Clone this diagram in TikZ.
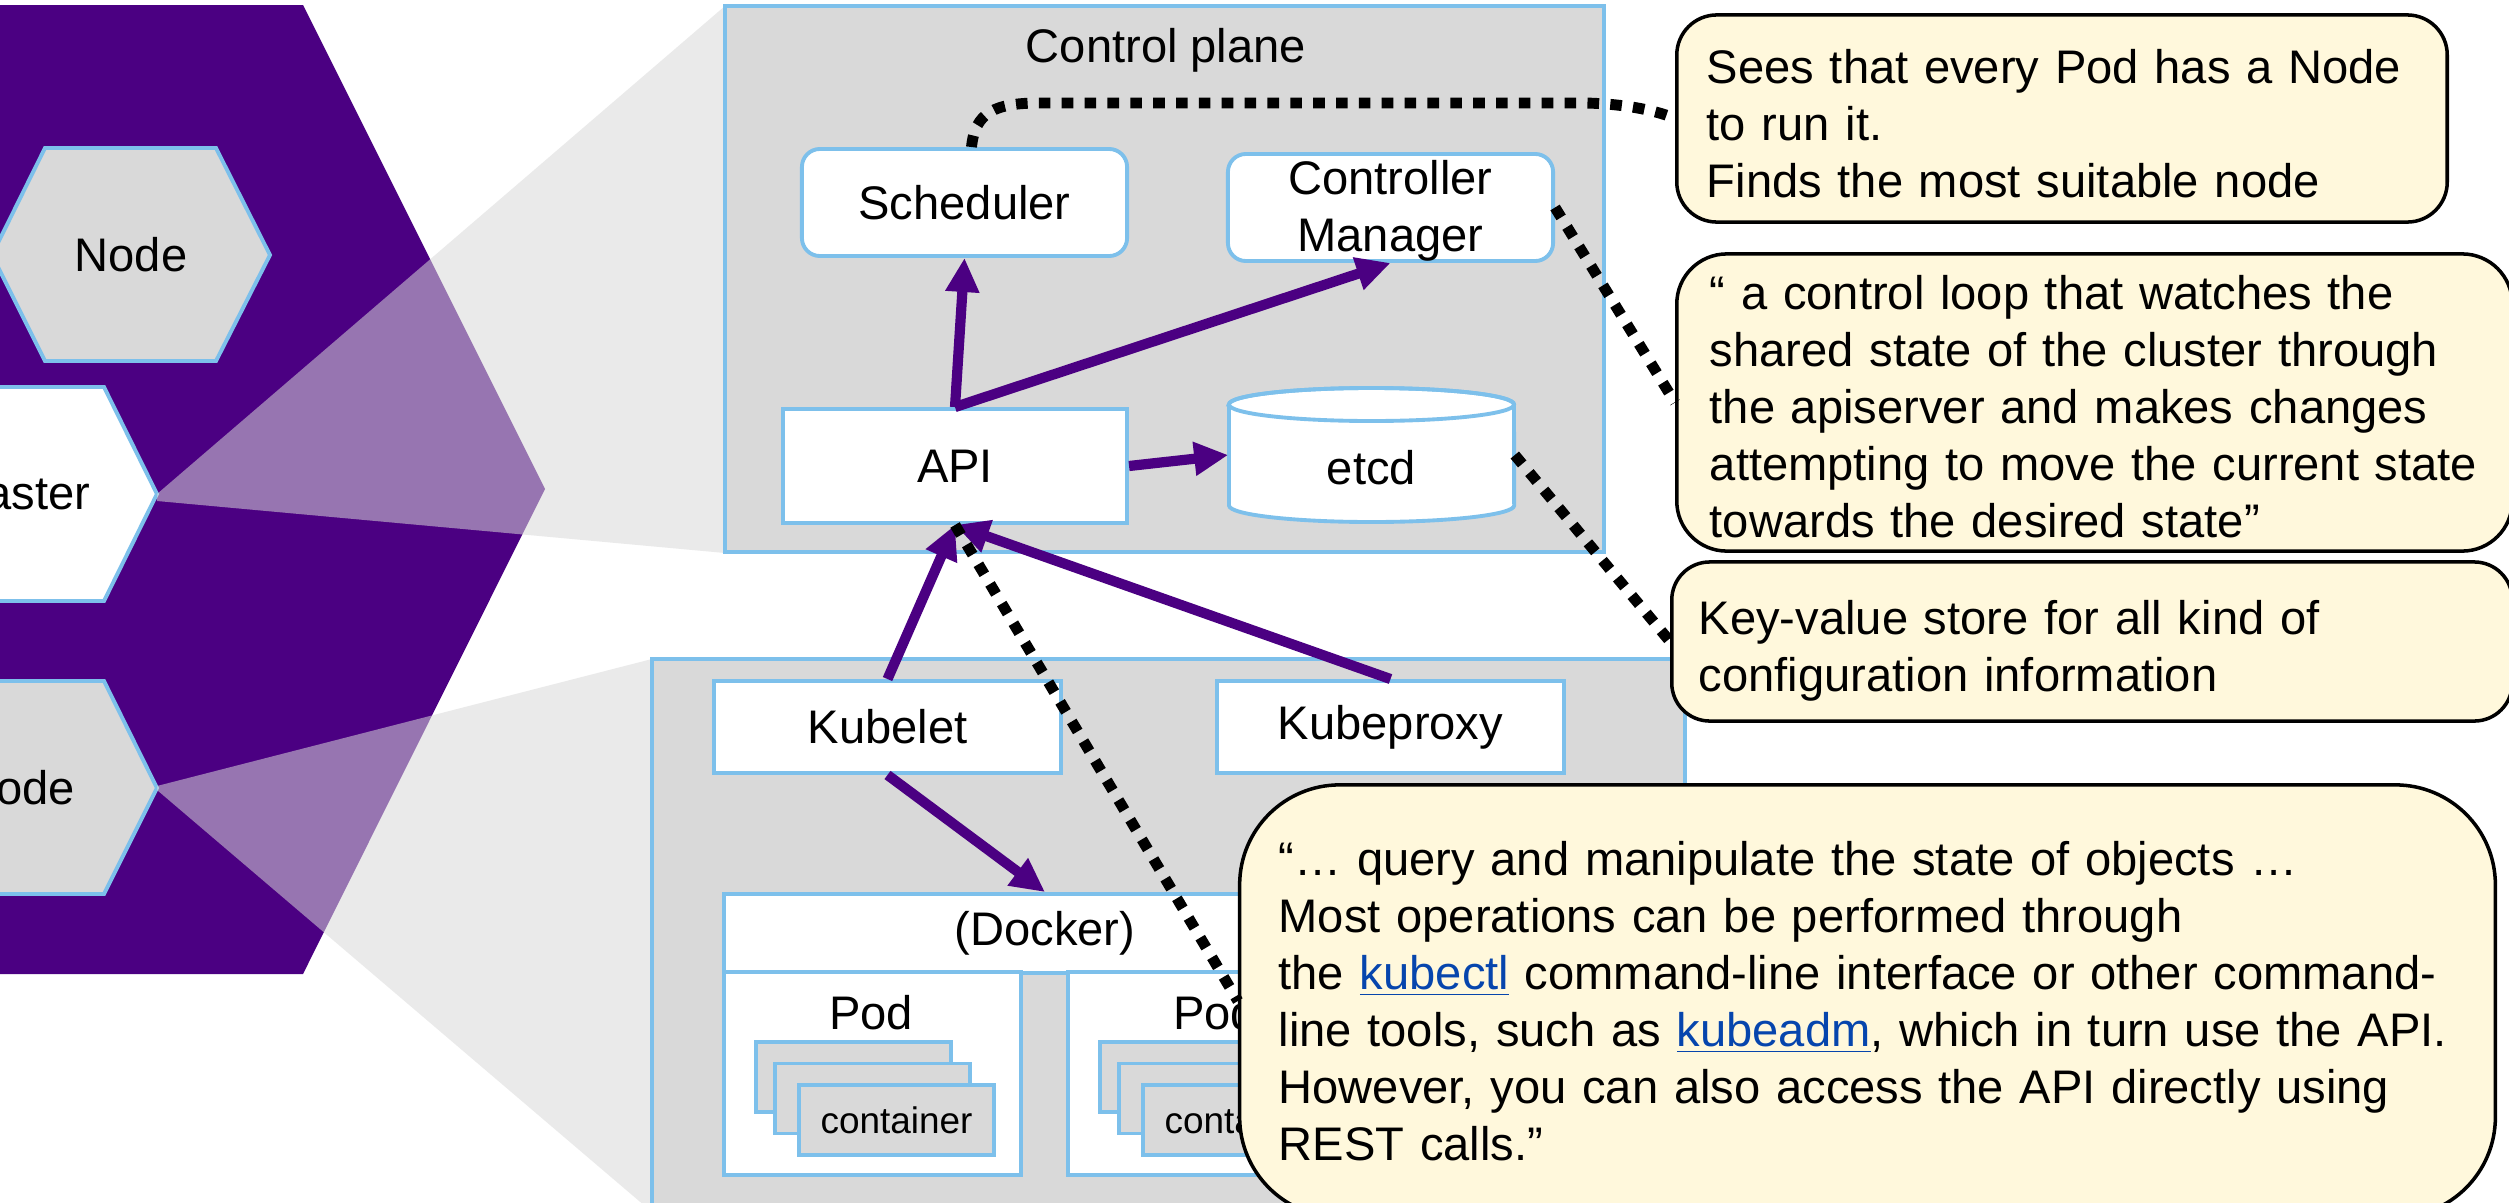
\documentclass[tikz,border=0pt]{standalone}
\usepackage{fontspec}
\setmainfont{Liberation Sans}
\usetikzlibrary{arrows.meta}
\definecolor{kpurple}{HTML}{4B0082}
\definecolor{kblue}{HTML}{7DC0EB}
\definecolor{kgray}{HTML}{D9D9D9}
\definecolor{kcream}{HTML}{FFF8DC}
\definecolor{klinkc}{HTML}{0645AD}
\newcommand\mainsz{\fontsize{13.4pt}{16.2pt}\selectfont}
\newcommand\smallsz{\fontsize{10.5pt}{12pt}\selectfont}
\newcommand\klink[1]{\textcolor{klinkc}{\underline{#1}}}
\begin{document}
\begin{tikzpicture}[x=0.01cm,y=-0.01cm,
  every node/.style={font=\mainsz, inner sep=0pt},
  wbox/.style={draw=kblue, line width=1.1pt, fill=white},
  gbox/.style={draw=kblue, line width=1.1pt, fill=kgray},
  hexa/.style={draw=kblue, line width=1.1pt},
  callout/.style={draw=black, line width=1pt, fill=kcream, align=left},
  parrow/.style={draw=kpurple, line width=2.9pt, -{Triangle[length=0.34cm,width=0.32cm]}},
  dots/.style={draw=black, line width=3.1pt, dash pattern=on 3.3pt off 3.2pt},
  fan/.style={fill=kgray, opacity=0.54},
  cont/.style={gbox, minimum width=1.95cm, minimum height=0.70cm, font=\smallsz}
]
\useasboundingbox (0,0) rectangle (2509,1203);
\clip (0,0) rectangle (2509,1203);
\fill[white] (0,0) rectangle (2509,1203);

% cluster hexagon
\fill[kpurple] (-400,5) -- (303,5) -- (545,489) -- (303,974) -- (-400,974) -- cycle;
\draw[hexa, fill=kgray] (-8,255) -- (45,148) -- (216,148) -- (270,255) -- (216,361) -- (45,361) -- cycle;
\node (hnode1) at (131,255) {Node};
\draw[hexa, fill=white] (-120,494) -- (-67,387) -- (104,387) -- (157,494) -- (104,601) -- (-67,601) -- cycle;
\node (hmaster) at (18.5,494) {Master};
\draw[hexa, fill=kgray] (-120,788) -- (-67,681) -- (104,681) -- (157,788) -- (104,894) -- (-67,894) -- cycle;
\node (hnode2) at (18.5,788) {Node};

% zoom fans
\fill[fan] (157,494) -- (725,6) -- (725,553) -- (157,501) -- cycle;
\fill[fan] (157,786) -- (652,659) -- (652,1212) -- (157,790) -- cycle;

% control plane
\node[gbox, minimum width=8.79cm, minimum height=5.46cm] (cp) at (1164.5,279) {};
\node (cptitle) at (1166,50) {Control plane};
\node[wbox, rounded corners=0.18cm, minimum width=3.25cm, minimum height=1.07cm] (sched) at (964.5,202.5) {Scheduler};
\node[wbox, rounded corners=0.18cm, minimum width=3.25cm, minimum height=1.07cm, align=center] (cm) at (1390.5,207.5) {\rule{0pt}{0.40cm}Controller\\Manager};
\node[wbox, minimum width=3.44cm, minimum height=1.14cm] (api) at (955,466) {API};
\filldraw[draw=kblue, line width=1.1pt, fill=white] (1229,404.5) -- (1229,505.5)
  arc[start angle=180, end angle=360, x radius=1.425cm, y radius=0.165cm] -- (1514,404.5)
  arc[start angle=0, end angle=180, x radius=1.425cm, y radius=0.165cm] -- cycle;
\draw[kblue, line width=1.1pt] (1371.5,404.5) ellipse [x radius=1.425cm, y radius=0.165cm];
\node[minimum width=2.85cm, text height=0.58cm, text depth=0pt] (etcd) at (1371.5,455) {etcd};

% worker node
\node[gbox, minimum width=10.33cm, minimum height=5.55cm] (worker) at (1168.5,936.5) {};
\node[wbox, minimum width=3.47cm, minimum height=0.92cm] (kubelet) at (887.5,727) {Kubelet};
\node[wbox, minimum width=3.47cm, minimum height=0.92cm] (kubeproxy) at (1390.5,727) {Kubeproxy};
\node[wbox, minimum width=6.42cm, minimum height=0.79cm] (docker) at (1045,933.5) {(Docker)};
\node[wbox, minimum width=2.97cm, minimum height=2.03cm] (pod1) at (872.5,1073.5) {};
\node (pod1t) at (871,1013) {Pod};
\node[cont] (c1a) at (853.5,1077) {container};
\node[cont] (c1b) at (872.5,1098.5) {container};
\node[cont] (c1c) at (896.5,1120) {container};
\node[wbox, minimum width=2.97cm, minimum height=2.03cm] (pod2) at (1216.5,1073.5) {};
\node (pod2t) at (1215,1013) {Pod};
\node[cont] (c2a) at (1197.5,1077) {container};
\node[cont] (c2b) at (1216.5,1098.5) {container};
\node[cont] (c2c) at (1240.5,1120) {container};

% arrows
\draw[parrow] (api.north) -- (sched.south);
\draw[parrow] (api.north) -- (cm.south);
\draw[parrow] (api.east) -- (etcd.west);
\draw[parrow] (kubelet.north) -- (api.south);
\draw[parrow] (kubeproxy.north) -- (api.south);
\draw[parrow] (kubelet.south) -- (docker.north);

% callouts
\node[callout, rounded corners=0.4cm, minimum height=2.07cm, text width=7.10cm, inner xsep=0.30cm] (co1) at (2062,118.5)
  {\rule{0pt}{0.44cm}\mbox{Sees that every Pod has a Node}\\\mbox{to run it.}\\\mbox{Finds the most suitable node}};
\node[callout, rounded corners=0.5cm, minimum height=2.97cm, text width=7.69cm, inner xsep=0.33cm] (co2) at (2094.5,402.5)
  {\rule{0pt}{0.42cm}\mbox{“ a control loop that watches the}\\\mbox{shared state of the cluster through}\\\mbox{the apiserver and makes changes}\\\mbox{attempting to move the current state}\\\mbox{towards the desired state”}};
\node[callout, rounded corners=0.38cm, minimum height=1.59cm, text width=7.86cm, inner xsep=0.27cm] (co3) at (2092,641.5)
  {\rule{0pt}{0.52cm}\mbox{Key-value store for all kind of}\\\mbox{configuration information}};
\node[callout, rounded corners=1.0cm, minimum height=4.32cm, text width=11.77cm, inner xsep=0.39cm] (co4) at (1867.5,1001)
  {\mbox{“… query and manipulate the state of objects …}\\
   \mbox{Most operations can be performed through}\\
   \mbox{the \klink{kubectl} command-line interface or other command-}\\
   \mbox{line tools, such as \klink{kubeadm}, which in turn use the API.}\\
   \mbox{However, you can also access the API directly using}\\
   \mbox{REST calls.”}};

% dotted connectors
\coordinate (d1) at (1040,103);
\coordinate (d2) at (1585,103);
\draw[dots] ([xshift=0.07cm]sched.north) .. controls (975,112) and (995,103) .. (d1) -- (d2) .. controls (1630,104) and (1660,112) .. (co1.west);
\draw[dots] (cm.east) -- (co2.west);
\draw[dots] (etcd.east) -- (co3.west);
\draw[dots] (api.south) -- (co4.west);
\end{tikzpicture}
\end{document}
